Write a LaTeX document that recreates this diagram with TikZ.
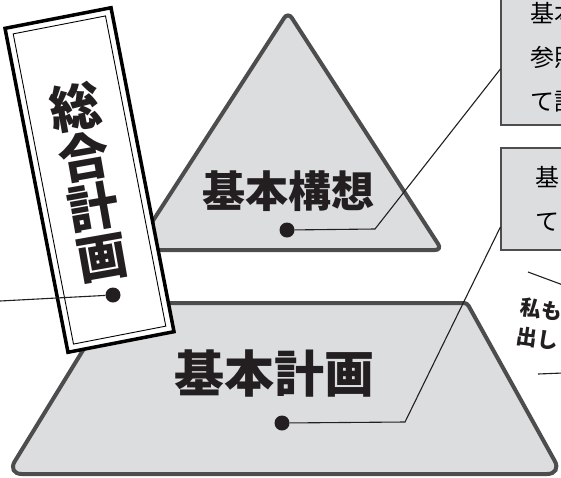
\documentclass[tikz,border=0pt]{standalone}
\usepackage{fontspec}
\setmainfont{Noto Sans CJK JP}[BoldFont={Noto Sans CJK JP Black}]
\usepackage{tikz}

\definecolor{shapefill}{HTML}{DCDDDF}
\definecolor{shapeline}{HTML}{4D4D4D}
\definecolor{ink}{HTML}{231F20}

\begin{document}
\begin{tikzpicture} [x=1pt, y=-1pt,
   block/.style={draw=shapeline, fill=shapefill, line width=4pt},
   banner/.style={draw=black, fill=white, line width=3.5pt},
   bannerin/.style={draw=black, line width=0.9pt},
   dot/.style={circle, fill=ink, inner sep=0pt, minimum size=15pt},
   conn/.style={draw=ink, line width=1.1pt},
   infobox/.style={draw=shapeline, fill=shapefill, line width=1.2pt, align=left,
      text width=80pt, inner ysep=0pt, font=\fontsize{24}{44}\selectfont},
   bigtext/.style={text=ink, font=\bfseries\fontsize{#1}{#1}\selectfont}]
   \useasboundingbox (0,0) rectangle (561,477);
   \clip (0,0) rectangle (561,477);

   % pyramid
   \draw[block, rounded corners=7pt] (288,12) -- (442,250) -- (134,250) -- cycle;
   \draw[block] (112,303) [rounded corners=3pt] -- (467,303) [rounded corners=15pt] -- (562,474) -- (7,474) -- cycle;
   \node (kousou)[bigtext=43] at (288,191) {基本構想};
   \node (keikaku)[bigtext=50] at (274,373) {基本計画};

   % banner
   \node (sogo)[banner, minimum width=108pt, minimum height=330pt, rotate=11] at (89.5,180) {};
   \node (sogoin)[bannerin, minimum width=94pt, minimum height=316pt, rotate=11] at (sogo) {};
   \node (sogotext)[bigtext=51, align=center, rotate=10] at (89,182) {総\\合\\計\\画};

   % notes
   \node (box1)[infobox, inner xsep=29pt, minimum height=136pt] at (570,57) {基本\\参照\\て計};
   \node (box2)[infobox, inner xsep=34pt, minimum height=102pt] at (575,199) {基\\て};
   \node (memo)[text=ink, font=\bfseries\fontsize{21}{29}\selectfont, align=left, anchor=north west, rotate=-8, inner sep=0pt] at (522,297) {私も\\出し};
   \draw[conn] (528,272) -- (563,285);
   \draw[conn] (538,374) -- (563,373);

   % leaders
   \node (d1)[dot] at (113,295) {};
   \node (d2)[dot] at (287,230) {};
   \node (d3)[dot] at (282,423) {};
   \coordinate (e1) at (0,301);
   \coordinate (k2) at (375,229);
   \coordinate (k3) at (405,422);

   \draw[conn] (e1) -- (d1);
   \draw[conn] (d2) -- (k2) -- (box1.west |- 0,69);
   \draw[conn] (d3) -- (k3) -- (box2.west |- 0,227);

\end{tikzpicture}
\end{document}
